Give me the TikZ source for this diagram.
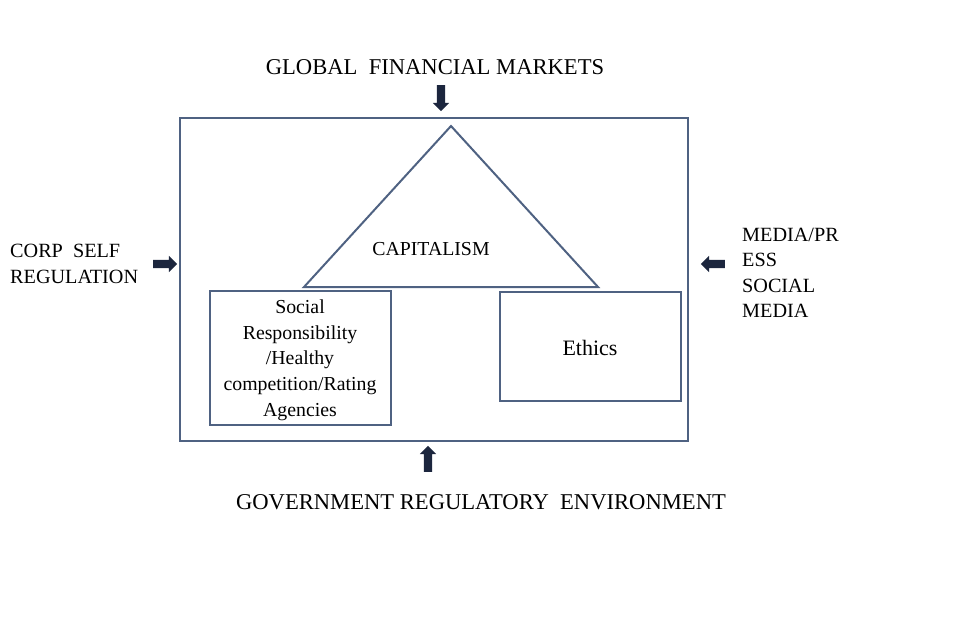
\documentclass[tikz,border=0pt]{standalone}
\usepackage{fontspec}
\setmainfont{Liberation Serif}
\usetikzlibrary{shapes.arrows}
\definecolor{frameblue}{RGB}{79,98,130}
\definecolor{arrownavy}{RGB}{28,38,62}
\tikzset{
  frame/.style={draw=frameblue, line width=2pt},
  blockarrow/.style={single arrow, fill=arrownavy, draw=none, minimum height=26pt,
    inner xsep=0pt, inner ysep=4pt, text height=0pt, text depth=0pt, text width=0pt,
    single arrow head extend=4pt, single arrow tip angle=90},
  biglabel/.style={font=\fontsize{22.6}{26}\selectfont, inner sep=0pt},
  sidelabel/.style={font=\fontsize{20.2}{25.4}\selectfont, inner sep=0pt, align=left},
  boxtext/.style={font=\fontsize{19.8}{25.7}\selectfont, inner sep=0pt, align=center}
}
\begin{document}
\begin{tikzpicture}[x=1pt,y=-1pt]
\useasboundingbox (0,0) rectangle (958,637);
% outer frame
\draw[frame] (180,118) rectangle (688,441);
% triangle
\coordinate (apex) at (451,126);
\coordinate (bl) at (304,287);
\coordinate (br) at (598,287);
\draw[frame, line join=miter] (apex) -- (bl) -- (br) -- cycle;
\node[boxtext] (cap) at (431,249) {CAPITALISM};
% boxes
\draw[frame] (210,291) rectangle (391,425);
\node[boxtext] (social) at (300,360) {Social\\Responsibility\\/Healthy\\competition/Rating\\Agencies};
\draw[frame] (500,292) rectangle (681,401);
\node[boxtext, font=\fontsize{22}{26}\selectfont] (ethics) at (590,348) {Ethics};
% outer labels
\node[biglabel] (gfm) at (435,67) {GLOBAL\ \ FINANCIAL MARKETS};
\node[biglabel] (gre) at (481,502) {GOVERNMENT REGULATORY\ \ ENVIRONMENT};
\node[sidelabel, anchor=west] (corp) at (10,264) {CORP\ \ SELF\\REGULATION};
\node[sidelabel, anchor=west] (media) at (742,273) {MEDIA/PR\\ESS\\SOCIAL\\MEDIA};
% block arrows
\node[blockarrow, rotate=-90] (aTop) at (441,96) {};
\node[blockarrow, rotate=90] (aBot) at (428,461) {};
\node[blockarrow, minimum height=24pt] (aLeft) at (163,264) {};
\node[blockarrow, rotate=180, minimum height=24pt] (aRight) at (715,264) {};
\end{tikzpicture}
\end{document}
